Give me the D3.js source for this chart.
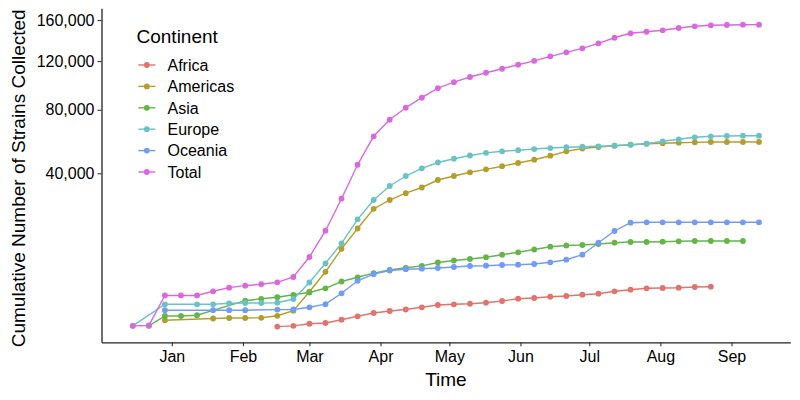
<!DOCTYPE html>
<html>
<head>
<meta charset="utf-8">
<script src="https://cdn.jsdelivr.net/npm/d3@7"></script>
<style>
  html, body { margin: 0; padding: 0; background: #fff; }
  text { font-family: "Liberation Sans", Arial, Helvetica, sans-serif; }
</style>
</head>
<body>
<svg id="chart" width="800" height="400"></svg>
<script>
// ---------- DATA ----------
const dates = [
  "2019-12-15","2019-12-22","2019-12-29","2020-01-05","2020-01-12","2020-01-19","2020-01-26",
  "2020-02-02","2020-02-09","2020-02-16","2020-02-23","2020-03-01","2020-03-08","2020-03-15",
  "2020-03-22","2020-03-29","2020-04-05","2020-04-12","2020-04-19","2020-04-26","2020-05-03",
  "2020-05-10","2020-05-17","2020-05-24","2020-05-31","2020-06-07","2020-06-14","2020-06-21",
  "2020-06-28","2020-07-05","2020-07-12","2020-07-19","2020-07-26","2020-08-02","2020-08-09",
  "2020-08-16","2020-08-23","2020-08-30","2020-09-06","2020-09-13"
];
const continents = ["Africa", "Americas", "Asia", "Europe", "Oceania", "Total"];

const africa = [null,null,null,null,null,null,null,null,null,0,1,14,22,81,181,315,414,498,634,794,
  847,893,972,1115,1325,1392,1521,1594,1732,1842,2121,2317,2497,2536,2576,2669,2710,null,null,null];
const americas = [null,null,70,null,null,112,126,126,132,199,430,2073,5112,10303,16382,23623,27280,30286,32935,36585,
  38606,40525,42110,43791,45554,47405,49716,52303,53993,54898,55700,56316,56936,57181,57564,57806,58000,58000,58000,58000];
const asia = [null,1,191,191,221,null,null,1142,1315,1471,1721,1979,2497,3462,4137,4854,5452,5885,6273,6993,
  7436,7777,8197,8799,9393,10118,10861,11195,11332,11612,11984,12180,12180,12270,12380,12467,12467,12467,12467,null];
const europe = [1,null,847,null,847,847,924,948,948,972,1297,3310,6823,11811,19590,27280,33642,38606,42649,45834,
  47978,49826,51409,52303,52958,53673,54281,54787,55086,55324,55700,56316,56936,58454,59722,61007,61637,61840,62040,62040];
const oceania = [null,null,458,null,null,458,458,458,null,492,498,634,854,1887,3570,4675,5357,5605,5709,5845,
  6046,6252,6313,6456,6522,6669,7037,7617,8799,11984,15557,18374,18512,18512,18512,18512,18512,18512,18512,18512];
const total = [1,2,1650,1650,1650,2120,2580,2850,3050,3340,4190,8250,15650,27850,44600,61650,72850,81550,89200,96750,
  101700,106050,109700,113200,116750,120250,124350,128050,131800,136600,142050,146450,148000,149450,151800,153500,154550,154850,155150,155200];

const yTickValues = [40000, 80000, 120000, 160000];
const xTickMonths = ["2020-01-01","2020-02-01","2020-03-01","2020-04-01","2020-05-01","2020-06-01","2020-07-01","2020-08-01","2020-09-01"];

const seriesValues = [africa, americas, asia, europe, oceania, total];
const colors = ["#E2726A", "#B59E28", "#63B54A", "#69C2C6", "#709CF6", "#DA67DF"];

// ---------- CHART ----------
const svg = d3.select("#chart");
const parse = d3.utcParse("%Y-%m-%d");
const dateObjs = dates.map(parse);

const pLeft = 101.5, pRight = 790.3, pTop = 8.3, pBottom = 342.3;

const dMin = dateObjs[0], dMax = dateObjs[dateObjs.length - 1];
const span = dMax - dMin;
const x = d3.scaleUtc()
  .domain([new Date(+dMin - span * 0.05), new Date(+dMax + span * 0.05)])
  .range([pLeft, pRight]);

const y = d3.scaleSqrt()
  .domain([-420, 172475])
  .range([pBottom, pTop]);

const series = continents.map((name, i) => ({
  name,
  color: colors[i],
  points: seriesValues[i]
    .map((v, j) => ({ date: dateObjs[j], value: v }))
    .filter(p => p.value !== null)
}));

const line = d3.line().x(d => x(d.date)).y(d => y(d.value));

// lines
svg.append("g").selectAll("path")
  .data(series).enter().append("path")
  .attr("d", d => line(d.points))
  .attr("fill", "none")
  .attr("stroke", d => d.color)
  .attr("stroke-width", 1.4);

// points
svg.append("g").selectAll("g")
  .data(series).enter().append("g")
  .attr("fill", d => d.color)
  .selectAll("circle")
  .data(d => d.points).enter().append("circle")
  .attr("cx", d => x(d.date))
  .attr("cy", d => y(d.value))
  .attr("r", 2.9);

// axes
const yAxis = d3.axisLeft(y)
  .tickValues(yTickValues)
  .tickFormat(d3.format(","))
  .tickSize(4)
  .tickSizeOuter(0)
  .tickPadding(3);
const gy = svg.append("g").attr("transform", `translate(${pLeft},0)`).call(yAxis);
gy.selectAll("text").attr("font-size", 16).attr("fill", "#000")
  .attr("font-family", '"Liberation Sans", Arial, sans-serif');
gy.selectAll("line").attr("stroke", "#333").attr("stroke-width", 1.1);
gy.select(".domain").attr("stroke", "#222").attr("stroke-width", 1.3);

const xAxis = d3.axisBottom(x)
  .tickValues(xTickMonths.map(parse))
  .tickFormat(d3.utcFormat("%b"))
  .tickSize(4)
  .tickSizeOuter(0)
  .tickPadding(4);
const gx = svg.append("g").attr("transform", `translate(0,${pBottom})`).call(xAxis);
gx.selectAll("text").attr("font-size", 16).attr("fill", "#000")
  .attr("font-family", '"Liberation Sans", Arial, sans-serif');
gx.selectAll("line").attr("stroke", "#333").attr("stroke-width", 1.1);
gx.select(".domain").attr("stroke", "#222").attr("stroke-width", 1.3);

// axis titles
svg.append("text")
  .attr("x", (pLeft + pRight) / 2)
  .attr("y", 386)
  .attr("text-anchor", "middle")
  .attr("font-size", 19)
  .attr("fill", "#000")
  .text("Time");

svg.append("text")
  .attr("transform", `translate(25,${(pTop + pBottom) / 2 + 3}) rotate(-90)`)
  .attr("text-anchor", "middle")
  .attr("font-size", 19)
  .attr("fill", "#000")
  .text("Cumulative Number of Strains Collected");

// legend
const legend = svg.append("g");
legend.append("text")
  .attr("x", 136.5)
  .attr("y", 43)
  .attr("font-size", 19)
  .attr("fill", "#000")
  .text("Continent");

const item = legend.selectAll("g.item")
  .data(series).enter().append("g")
  .attr("class", "item")
  .attr("transform", (d, i) => `translate(0,${65 + i * 21.4})`);
item.append("line")
  .attr("x1", 138.3).attr("x2", 155.3)
  .attr("y1", 0).attr("y2", 0)
  .attr("stroke", d => d.color)
  .attr("stroke-width", 1.4);
item.append("circle")
  .attr("cx", 146.8).attr("cy", 0).attr("r", 2.9)
  .attr("fill", d => d.color);
item.append("text")
  .attr("x", 167.5)
  .attr("y", 5.8)
  .attr("font-size", 16)
  .attr("fill", "#000")
  .text(d => d.name);
</script>
</body>
</html>
